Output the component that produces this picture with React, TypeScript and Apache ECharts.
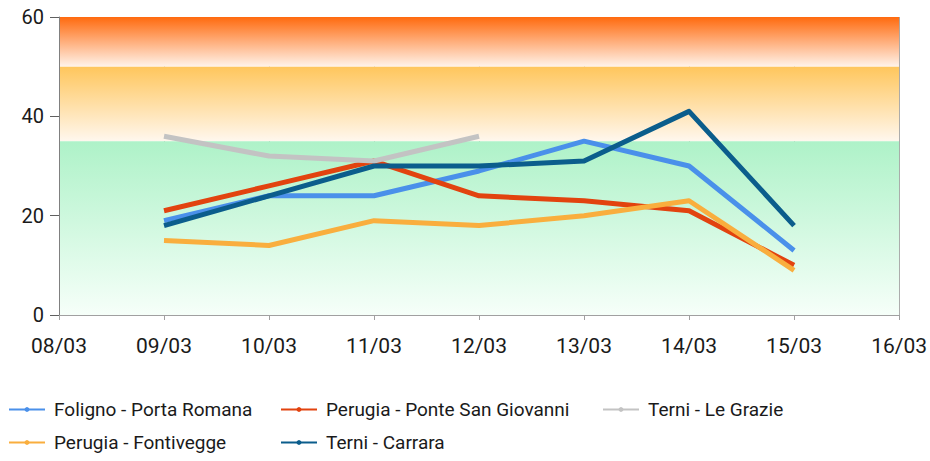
import React, { useEffect, useRef } from "react";
import * as echarts from "echarts";

const categories = ["08/03", "09/03", "10/03", "11/03", "12/03", "13/03", "14/03", "15/03", "16/03"];
const folignoPortaRomana = [null, 19, 24, 24, 29, 35, 30, 13, null];
const perugiaPonteSanGiovanni = [null, 21, 26, 31, 24, 23, 21, 10, null];
const terniLeGrazie = [null, 36, 32, 31, 36, null, null, null, null];
const perugiaFontivegge = [null, 15, 14, 19, 18, 20, 23, 9, null];
const terniCarrara = [null, 18, 24, 30, 30, 31, 41, 18, null];
const yTicks = { min: 0, max: 60, interval: 20 };
const bands = [
  { from: 50, to: 60, top: "#ff6a0e", bottom: "#fff3ea" },
  { from: 35, to: 50, top: "#ffc65c", bottom: "#fff7ee" },
  { from: 0, to: 35, top: "#aef2c8", bottom: "#f6fff9" },
];

const seriesDefs = [
  { name: "Foligno - Porta Romana", data: folignoPortaRomana, color: "#4a90ea" },
  { name: "Perugia - Ponte San Giovanni", data: perugiaPonteSanGiovanni, color: "#e2430f" },
  { name: "Terni - Le Grazie", data: terniLeGrazie, color: "#c3c3c3" },
  { name: "Perugia - Fontivegge", data: perugiaFontivegge, color: "#f9ae3e" },
  { name: "Terni - Carrara", data: terniCarrara, color: "#0b5d8c" },
];

const legendPos = [
  { left: 8, top: 400 },
  { left: 280, top: 400 },
  { left: 602, top: 400 },
  { left: 8, top: 433 },
  { left: 280, top: 433 },
];

const FONT = "Roboto, 'Liberation Sans', sans-serif";

export default function App() {
  const ref = useRef<HTMLDivElement>(null);
  useEffect(() => {
    if (!ref.current) return;
    const chart = echarts.init(ref.current, null, { renderer: "svg" });
    const option: any = {
      animation: false,
      backgroundColor: "#ffffff",
      grid: { left: 59, right: 30, top: 17, bottom: 146 },
      legend: seriesDefs.map((s, i) => ({
        data: [s.name],
        left: legendPos[i].left,
        top: legendPos[i].top,
        padding: 0,
        itemWidth: 36,
        itemHeight: 6,
        itemGap: 8,
        lineStyle: { width: 2 },
        textStyle: { fontFamily: FONT, fontSize: 19, color: "#1a1a1a", padding: [0, 0, 0, 4] },
      })),
      xAxis: {
        type: "category",
        data: categories,
        boundaryGap: false,
        z: 1,
        axisLine: { lineStyle: { color: "#a0a0a0", width: 1 } },
        axisTick: { show: true, length: 5, lineStyle: { color: "#a0a0a0" } },
        splitLine: { show: true, lineStyle: { color: "#a8a8a8", width: 1 } },
        axisLabel: { fontFamily: FONT, fontSize: 21, color: "#1a1a1a", margin: 20 },
      },
      yAxis: {
        type: "value",
        min: yTicks.min,
        max: yTicks.max,
        interval: yTicks.interval,
        z: 1,
        axisLine: { show: true, lineStyle: { color: "#808080", width: 1 } },
        axisTick: { show: true, length: 9, lineStyle: { color: "#606060" } },
        splitLine: { show: true, lineStyle: { color: "#8a8a8a", width: 1 } },
        axisLabel: { fontFamily: FONT, fontSize: 20, color: "#1a1a1a", margin: 15 },
      },
      series: [
        {
          type: "line",
          name: "__bands",
          data: [],
          z: 0,
          silent: true,
          markArea: {
            silent: true,
            data: bands.map((b) => [
              {
                yAxis: b.to,
                itemStyle: {
                  color: new echarts.graphic.LinearGradient(0, 0, 0, 1, [
                    { offset: 0, color: b.top },
                    { offset: 1, color: b.bottom },
                  ]),
                  opacity: 1,
                },
              },
              { yAxis: b.from },
            ]),
          },
        },
        ...seriesDefs.map((s) => ({
          type: "line",
          name: s.name,
          data: s.data,
          z: 3,
          color: s.color,
          symbol: "circle",
          symbolSize: 4,
          showSymbol: false,
          connectNulls: false,
          lineStyle: { width: 5, color: s.color, join: "round" },
          itemStyle: { color: s.color },
        })),
      ],
    };
    chart.setOption(option);
    return () => chart.dispose();
  }, []);
  return (
    <div
      ref={ref}
      style={{ position: "absolute", left: 0, top: 0, width: 930, height: 461, overflow: "hidden" }}
    />
  );
}
